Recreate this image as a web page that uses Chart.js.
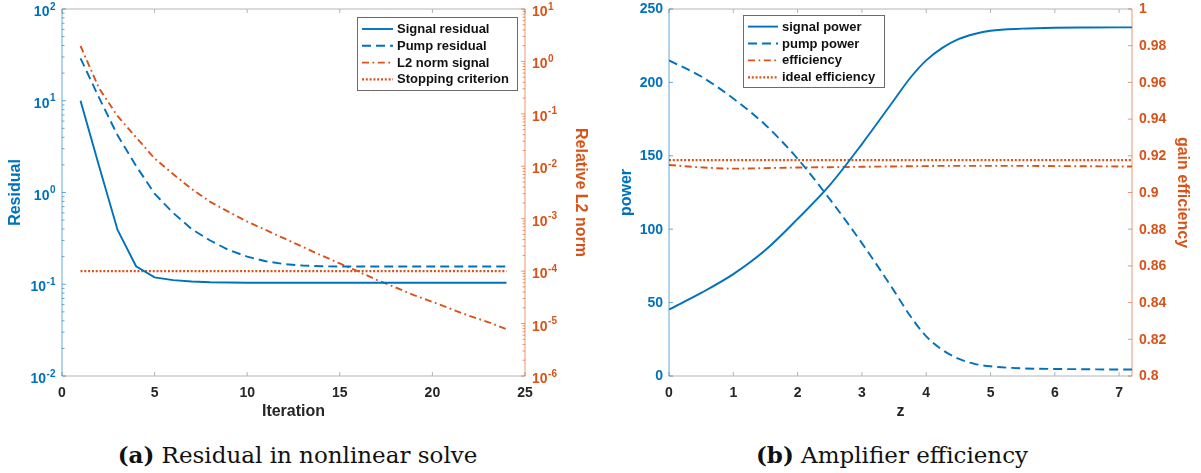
<!DOCTYPE html>
<html>
<head>
<meta charset="utf-8">
<script src="https://cdn.jsdelivr.net/npm/chart.js@4.4.1/dist/chart.umd.min.js"></script>
<style>
html, body { margin: 0; padding: 0; background: #fff; width: 1201px; height: 473px; overflow: hidden; }
.box { position: absolute; top: 0; height: 430px; }
#left { left: 0; width: 600px; }
#right { left: 600px; width: 601px; }
.cap { position: absolute; top: 441px; font-family: "DejaVu Serif", "Liberation Serif", serif; font-size: 23px; line-height: 28px; color: #111; text-align: center; white-space: nowrap; }
</style>
</head>
<body>
<div class="box" id="left"><canvas id="residualChart"></canvas></div>
<div class="box" id="right"><canvas id="efficiencyChart"></canvas></div>
<div class="cap" style="left:0;width:595px"><b>(a)</b> Residual in nonlinear solve</div>
<div class="cap" style="left:600px;width:584px"><b>(b)</b> Amplifier efficiency</div>
<script>
// (a) nonlinear solve
const iterations = [1, 2, 3, 4, 5, 6, 7, 8, 9, 10, 11, 12, 13, 14, 15, 16, 17, 18, 19, 20, 21, 22, 23, 24];
const signalResidual = [10, 1.95, 0.39, 0.157, 0.119, 0.111, 0.107, 0.105, 0.1045, 0.104, 0.104, 0.104, 0.104, 0.104, 0.104, 0.104, 0.104, 0.104, 0.104, 0.104, 0.104, 0.104, 0.104, 0.104];
const pumpResidual = [29, 10.8, 4.2, 1.95, 0.97, 0.6, 0.40, 0.30, 0.236, 0.2, 0.178, 0.166, 0.16, 0.157, 0.156, 0.156, 0.156, 0.156, 0.156, 0.156, 0.156, 0.156, 0.156, 0.156];
const l2NormSignal = [1.97, 0.307, 0.091, 0.0356, 0.0141, 0.0071, 0.0037, 0.0021, 0.00135, 0.00088, 0.00061, 0.00042, 0.00029, 0.0002, 0.00014, 0.0000985, 0.000068, 0.000049, 0.000035, 0.000026, 0.000019, 0.000014, 0.0000107, 0.0000078];
const stoppingCriterion = 1e-4;

const iterationTicks = [0, 5, 10, 15, 20, 25];
const residualTicks = [1e-2, 1e-1, 1, 10, 100];
const l2Ticks = [1e-6, 1e-5, 1e-4, 1e-3, 1e-2, 1e-1, 1, 10];

// (b) amplifier
const zPositions = [0, 0.5, 1, 1.5, 2, 2.5, 3, 3.5, 3.75, 4, 4.25, 4.5, 4.75, 5, 5.5, 6, 6.5, 7, 7.2];
const signalPower = [45.3, 56.6, 69.4, 85.8, 107, 130, 158, 188, 203, 215, 223.5, 229.5, 233, 235.2, 236.6, 237.2, 237.4, 237.5, 237.5];
const pumpPower = [215, 204, 189, 171, 148, 120.5, 90.5, 58, 41, 27, 17.8, 11.8, 8.3, 6.6, 5.2, 4.8, 4.6, 4.4, 4.4];
const efficiency = [0.915, 0.9137, 0.913, 0.9133, 0.9136, 0.9138, 0.914, 0.9142, 0.9143, 0.9144, 0.9145, 0.9145, 0.9145, 0.9145, 0.9145, 0.9144, 0.9143, 0.9142, 0.9142];
const idealEfficiency = 0.9176;

const zTicks = [0, 1, 2, 3, 4, 5, 6, 7];
const powerTicks = [0, 50, 100, 150, 200, 250];
const gainTicks = [0.8, 0.82, 0.84, 0.86, 0.88, 0.9, 0.92, 0.94, 0.96, 0.98, 1];

const blue = '#0072BD';
const orange = '#D95319';
const dark = '#262626';
const FONT = '"Liberation Sans", Arial, sans-serif';

Chart.defaults.font.family = FONT;
Chart.defaults.animation = false;

function pairs(xs, ys) {
    return xs.map(function (x, i) { return { x: x, y: ys[i] }; });
}

function flat(xs, value) {
    return [{ x: xs[0], y: value }, { x: xs[xs.length - 1], y: value }];
}

function fixedTicks(values) {
    return function (scale) {
        scale.ticks = values.map(function (v) { return { value: v }; });
    };
}

function strokeLine(ctx, x1, y1, x2, y2) {
    ctx.beginPath();
    ctx.moveTo(x1, y1);
    ctx.lineTo(x2, y2);
    ctx.stroke();
}

function logMinors(scale) {
    const out = [];
    for (let e = Math.floor(Math.log10(scale.min)); e < Math.log10(scale.max); e++) {
        for (let m = 2; m < 10; m++) {
            out.push(m * Math.pow(10, e));
        }
    }
    return out;
}

function drawPow10(ctx, x, y, value, align, color) {
    const exp = String(Math.round(Math.log10(value)));
    ctx.fillStyle = color;
    ctx.textBaseline = 'alphabetic';
    ctx.textAlign = 'left';
    ctx.font = 'bold 14px ' + FONT;
    const w1 = ctx.measureText('10').width;
    ctx.font = 'bold 10px ' + FONT;
    const w2 = ctx.measureText(exp).width;
    const start = align === 'right' ? x - w1 - w2 : x;
    ctx.font = 'bold 14px ' + FONT;
    ctx.fillText('10', start, y + 7);
    ctx.font = 'bold 10px ' + FONT;
    ctx.fillText(exp, start + w1 + 0.5, y + 0.5);
}

function drawPlain(ctx, x, y, value, align, color) {
    ctx.fillStyle = color;
    ctx.textBaseline = 'middle';
    ctx.textAlign = align;
    ctx.font = 'bold 14px ' + FONT;
    ctx.fillText(String(Math.round(value * 100) / 100), x, y + 0.5);
}

function axisLabels(ctx, scale, x, align, color) {
    scale.ticks.forEach(function (t) {
        const py = scale.getPixelForValue(t.value);
        if (scale.type === 'logarithmic') {
            drawPow10(ctx, x, py, t.value, align, color);
        } else {
            drawPlain(ctx, x, py, t.value, align, color);
        }
    });
}

function axisTicks(ctx, scale, x0, dir) {
    scale.ticks.forEach(function (t) {
        const py = scale.getPixelForValue(t.value);
        strokeLine(ctx, x0, py, x0 + 4 * dir, py);
    });
    if (scale.type === 'logarithmic') {
        logMinors(scale).forEach(function (v) {
            const py = scale.getPixelForValue(v);
            strokeLine(ctx, x0, py, x0 + 2.5 * dir, py);
        });
    }
}

// box, inward ticks, y labels and legend drawn the matlab way
const matlabFrame = {
    id: 'matlabFrame',
    afterDraw(chart, args, opts) {
        const ctx = chart.ctx;
        const a = chart.chartArea;
        const sx = chart.scales.x;
        ctx.save();
        ctx.setLineDash([]);
        ctx.lineWidth = 1;

        ctx.strokeStyle = '#b4b4b4';
        strokeLine(ctx, a.left, a.top, a.right, a.top);
        strokeLine(ctx, a.left, a.bottom, a.right, a.bottom);
        sx.ticks.forEach(function (t) {
            const px = sx.getPixelForValue(t.value);
            strokeLine(ctx, px, a.bottom, px, a.bottom - 4);
            strokeLine(ctx, px, a.top, px, a.top + 4);
        });

        ctx.strokeStyle = 'rgba(0,114,189,0.6)';
        strokeLine(ctx, a.left, a.top, a.left, a.bottom);
        axisTicks(ctx, chart.scales.y, a.left, 1);

        ctx.strokeStyle = 'rgba(217,83,25,0.6)';
        strokeLine(ctx, a.right, a.top, a.right, a.bottom);
        axisTicks(ctx, chart.scales.y1, a.right, -1);

        axisLabels(ctx, chart.scales.y, a.left - opts.labelGap, 'right', blue);
        axisLabels(ctx, chart.scales.y1, a.right + 7, 'left', orange);

        const lg = opts.legend;
        ctx.fillStyle = '#fff';
        ctx.fillRect(lg.x, lg.y, lg.w, lg.h);
        ctx.strokeStyle = '#6b6b6b';
        ctx.lineWidth = 1;
        ctx.strokeRect(lg.x + 0.5, lg.y + 0.5, lg.w, lg.h);
        ctx.font = 'bold 13px ' + FONT;
        ctx.textBaseline = 'middle';
        ctx.textAlign = 'left';
        chart.data.datasets.forEach(function (ds, i) {
            const cy = lg.y + lg.first + i * lg.gap;
            ctx.strokeStyle = ds.borderColor;
            ctx.lineWidth = ds.borderWidth;
            ctx.setLineDash(ds.borderDash || []);
            strokeLine(ctx, lg.x + lg.s0, cy, lg.x + lg.s1, cy);
            ctx.setLineDash([]);
            ctx.fillStyle = '#111';
            ctx.fillText(ds.label, lg.x + lg.tx, cy + 0.5);
        });
        ctx.restore();
    }
};

function lineSet(label, data, color, dash, axis, smooth) {
    return {
        label: label,
        data: data,
        borderColor: color,
        backgroundColor: color,
        borderWidth: dash.length === 2 && dash[0] < 3 ? 2.2 : 1.9,
        borderDash: dash,
        pointRadius: 0,
        tension: 0,
        cubicInterpolationMode: smooth ? 'monotone' : 'default',
        yAxisID: axis
    };
}

const dashed = [9, 5];
const dashDot = [7, 3.5, 1.8, 3.5];
const dotted = [2, 1.8];

const tickFont = { size: 14, weight: 'bold' };
const titleFont = { size: 16, weight: 'bold' };

function xAxis(max, ticks, title) {
    return {
        type: 'linear', min: 0, max: max,
        afterBuildTicks: fixedTicks(ticks),
        afterFit: function (s) { s.height = 54; },
        grid: { display: false, drawTicks: false }, border: { display: false },
        ticks: { color: dark, font: tickFont, padding: 9, maxRotation: 0 },
        title: { display: true, text: title, color: dark, font: titleFont, padding: { top: 0, bottom: 9 } }
    };
}

function yAxis(type, position, min, max, ticks, width, title, color, pad) {
    return {
        type: type, position: position, min: min, max: max,
        afterBuildTicks: fixedTicks(ticks),
        afterFit: function (s) { s.width = width; },
        grid: { display: false, drawTicks: false }, border: { display: false },
        ticks: { display: false },
        title: { display: true, text: title, color: color, font: titleFont, padding: { top: pad, bottom: 0 } }
    };
}

new Chart(document.getElementById('residualChart'), {
    type: 'line',
    data: {
        datasets: [
            lineSet('Signal residual', pairs(iterations, signalResidual), blue, [], 'y'),
            lineSet('Pump residual', pairs(iterations, pumpResidual), blue, dashed, 'y'),
            lineSet('L2 norm signal', pairs(iterations, l2NormSignal), orange, dashDot, 'y1'),
            lineSet('Stopping criterion', flat(iterations, stoppingCriterion), orange, dotted, 'y1')
        ]
    },
    options: {
        responsive: true,
        maintainAspectRatio: false,
        layout: { padding: { top: 9, left: 0, right: 0, bottom: 0 } },
        plugins: {
            legend: { display: false },
            tooltip: { enabled: false },
            matlabFrame: { labelGap: 7, legend: { x: 357, y: 17, w: 160, h: 73, first: 12, gap: 16.8, s0: 5, s1: 36, tx: 40 } }
        },
        scales: {
            x: xAxis(25, iterationTicks, 'Iteration'),
            y: yAxis('logarithmic', 'left', 0.01, 100, residualTicks, 62, 'Residual', blue, 6),
            y1: yAxis('logarithmic', 'right', 1e-6, 10, l2Ticks, 75, 'Relative L2 norm', orange, 10)
        }
    },
    plugins: [matlabFrame]
});

new Chart(document.getElementById('efficiencyChart'), {
    type: 'line',
    data: {
        datasets: [
            lineSet('signal power', pairs(zPositions, signalPower), blue, [], 'y', true),
            lineSet('pump power', pairs(zPositions, pumpPower), blue, dashed, 'y', true),
            lineSet('efficiency', pairs(zPositions, efficiency), orange, dashDot, 'y1', true),
            lineSet('ideal efficiency', flat(zPositions, idealEfficiency), orange, dotted, 'y1')
        ]
    },
    options: {
        responsive: true,
        maintainAspectRatio: false,
        layout: { padding: { top: 9, left: 0, right: 0, bottom: 0 } },
        plugins: {
            legend: { display: false },
            tooltip: { enabled: false },
            matlabFrame: { labelGap: 6, legend: { x: 143, y: 15, w: 141, h: 72, first: 11.6, gap: 16.9, s0: 5, s1: 35, tx: 39 } }
        },
        scales: {
            x: xAxis(7.2, zTicks, 'z'),
            y: yAxis('linear', 'left', 0, 250, powerTicks, 69, 'power', blue, 17),
            y1: yAxis('linear', 'right', 0.8, 1, gainTicks, 69, 'gain efficiency', orange, 9)
        }
    },
    plugins: [matlabFrame]
});
</script>
</body>
</html>
